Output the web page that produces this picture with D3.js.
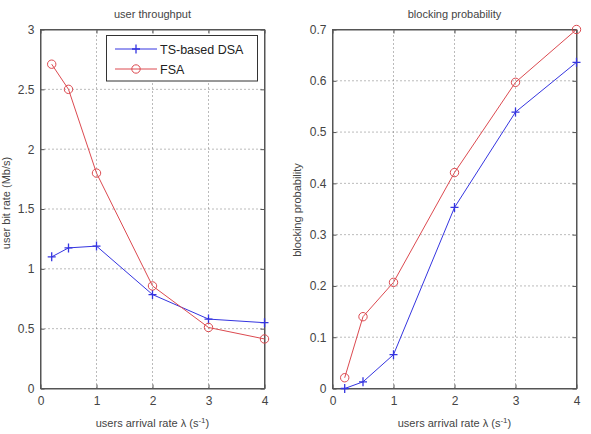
<!DOCTYPE html>
<html><head><meta charset="utf-8">
<script src="https://cdn.jsdelivr.net/npm/d3@7"></script>
<style>body{margin:0;background:#fff}svg{display:block}text{font-family:"Liberation Sans",Arial,sans-serif}</style>
</head><body>
<svg id="c" width="591" height="434"></svg>
<script>
const xVals = [0.2, 0.5, 1, 2, 3, 4];
const seriesNames = ["TS-based DSA", "FSA"];
const throughputDSA = [1.10, 1.175, 1.19, 0.785, 0.58, 0.55];
const throughputFSA = [2.71, 2.50, 1.80, 0.857, 0.51, 0.414];
const blockingDSA = [0.0, 0.013, 0.066, 0.353, 0.539, 0.636];
const blockingFSA = [0.021, 0.14, 0.207, 0.421, 0.597, 0.70];
const xTicks = [0, 1, 2, 3, 4];
const yTicksLeft = [0, 0.5, 1, 1.5, 2, 2.5, 3];
const yTicksRight = [0, 0.1, 0.2, 0.3, 0.4, 0.5, 0.6, 0.7];

const svg = d3.select("#c");
const blue = "#3535e0", red = "#dc4a50", axCol = "#555", txtCol = "#444";

function panel(o) {
  const x = d3.scaleLinear().domain([0, 4]).range([o.x0, o.x1]);
  const y = d3.scaleLinear().domain(o.ydom).range([o.y0, o.y1]);
  const g = svg.append("g");
  g.selectAll(".gx").data(xTicks.slice(1, -1)).enter().append("line")
    .attr("x1", d => x(d)).attr("x2", d => x(d)).attr("y1", o.y0).attr("y2", o.y1)
    .attr("stroke", "#777").attr("stroke-width", 1).attr("stroke-dasharray", "1,3");
  g.selectAll(".gy").data(o.yticks.slice(1, -1)).enter().append("line")
    .attr("y1", d => y(d)).attr("y2", d => y(d)).attr("x1", o.x0).attr("x2", o.x1)
    .attr("stroke", "#777").attr("stroke-width", 1).attr("stroke-dasharray", "1,3");
  g.append("g").attr("transform", `translate(0,${o.y0})`)
    .call(d3.axisBottom(x).tickValues(xTicks).tickSizeInner(-4).tickSizeOuter(0).tickPadding(8).tickFormat(d3.format("d")));
  g.append("g").attr("transform", `translate(${o.x0},0)`)
    .call(d3.axisLeft(y).tickValues(o.yticks).tickSizeInner(-4).tickSizeOuter(0).tickPadding(6).tickFormat(d => d3.format("")(d)));
  g.append("g").attr("transform", `translate(0,${o.y1})`)
    .call(d3.axisTop(x).tickValues(xTicks).tickSizeInner(-4).tickSizeOuter(0).tickFormat(""));
  g.append("g").attr("transform", `translate(${o.x1},0)`)
    .call(d3.axisRight(y).tickValues(o.yticks).tickSizeInner(-4).tickSizeOuter(0).tickFormat(""));
  g.selectAll(".domain").attr("stroke", axCol);
  g.selectAll(".tick line").attr("stroke", axCol);
  g.selectAll(".tick text").attr("fill", txtCol).style("font-size", "12px");
  g.append("rect").attr("x", o.x0).attr("y", o.y1).attr("width", o.x1 - o.x0).attr("height", o.y0 - o.y1)
    .attr("fill", "none").attr("stroke", axCol);
  g.append("text").attr("x", (o.x0 + o.x1) / 2).attr("y", 18).attr("text-anchor", "middle")
    .attr("fill", txtCol).style("font-size", "11px").text(o.title);
  const xl = g.append("text").attr("x", (o.x0 + o.x1) / 2).attr("y", 427).attr("text-anchor", "middle")
    .attr("fill", txtCol).style("font-size", "11px");
  xl.append("tspan").text("users arrival rate λ (s");
  xl.append("tspan").attr("dy", -4).style("font-size", "8px").text("-1");
  xl.append("tspan").attr("dy", 4).text(")");
  g.append("text").attr("transform", `translate(${o.ylx},${o.yly}) rotate(-90)`).attr("text-anchor", "middle")
    .attr("fill", txtCol).style("font-size", "11px").text(o.ylabel);
  const line = d3.line().x((d, i) => x(xVals[i])).y(d => y(d));
  [[o.dsa, blue, "plus"], [o.fsa, red, "circle"]].forEach(([data, col, m]) => {
    g.append("path").datum(data).attr("d", line).attr("fill", "none").attr("stroke", col).attr("stroke-width", 1);
    data.forEach((v, i) => {
      const cx = x(xVals[i]), cy = y(v);
      if (m === "circle") {
        g.append("circle").attr("cx", cx).attr("cy", cy).attr("r", 4.2).attr("fill", "none").attr("stroke", col).attr("stroke-width", 1);
      } else {
        g.append("path").attr("d", `M${cx - 4},${cy}H${cx + 4}M${cx},${cy - 4.5}V${cy + 4.5}`).attr("stroke", col).attr("stroke-width", 1.3);
      }
    });
  });
}

panel({ x0: 40.5, x1: 264.5, y0: 388.5, y1: 29.5, ydom: [0, 3], yticks: yTicksLeft,
  dsa: throughputDSA, fsa: throughputFSA, title: "user throughput", ylabel: "user bit rate (Mb/s)", ylx: 10, yly: 203 });
panel({ x0: 332.5, x1: 576.5, y0: 388.5, y1: 29.5, ydom: [0, 0.7], yticks: yTicksRight,
  dsa: blockingDSA, fsa: blockingFSA, title: "blocking probability", ylabel: "blocking probability", ylx: 301, yly: 210 });

const lg = svg.append("g");
lg.append("rect").attr("x", 106.5).attr("y", 35.5).attr("width", 151).attr("height", 45.5)
  .attr("fill", "#fff").attr("stroke", "#333");
seriesNames.forEach((name, i) => {
  const yy = 49 + i * 20, col = i === 0 ? blue : red;
  lg.append("line").attr("x1", 115).attr("x2", 157).attr("y1", yy).attr("y2", yy).attr("stroke", col);
  if (i === 0) lg.append("path").attr("d", `M132,${yy}H140M136,${yy - 4.5}V${yy + 4.5}`).attr("stroke", col).attr("stroke-width", 1.3);
  else lg.append("circle").attr("cx", 136).attr("cy", yy).attr("r", 4.2).attr("fill", "none").attr("stroke", col);
  lg.append("text").attr("x", 160).attr("y", yy + 4.5).attr("fill", "#222").style("font-size", "12.5px").text(name);
});
</script>
</body></html>
